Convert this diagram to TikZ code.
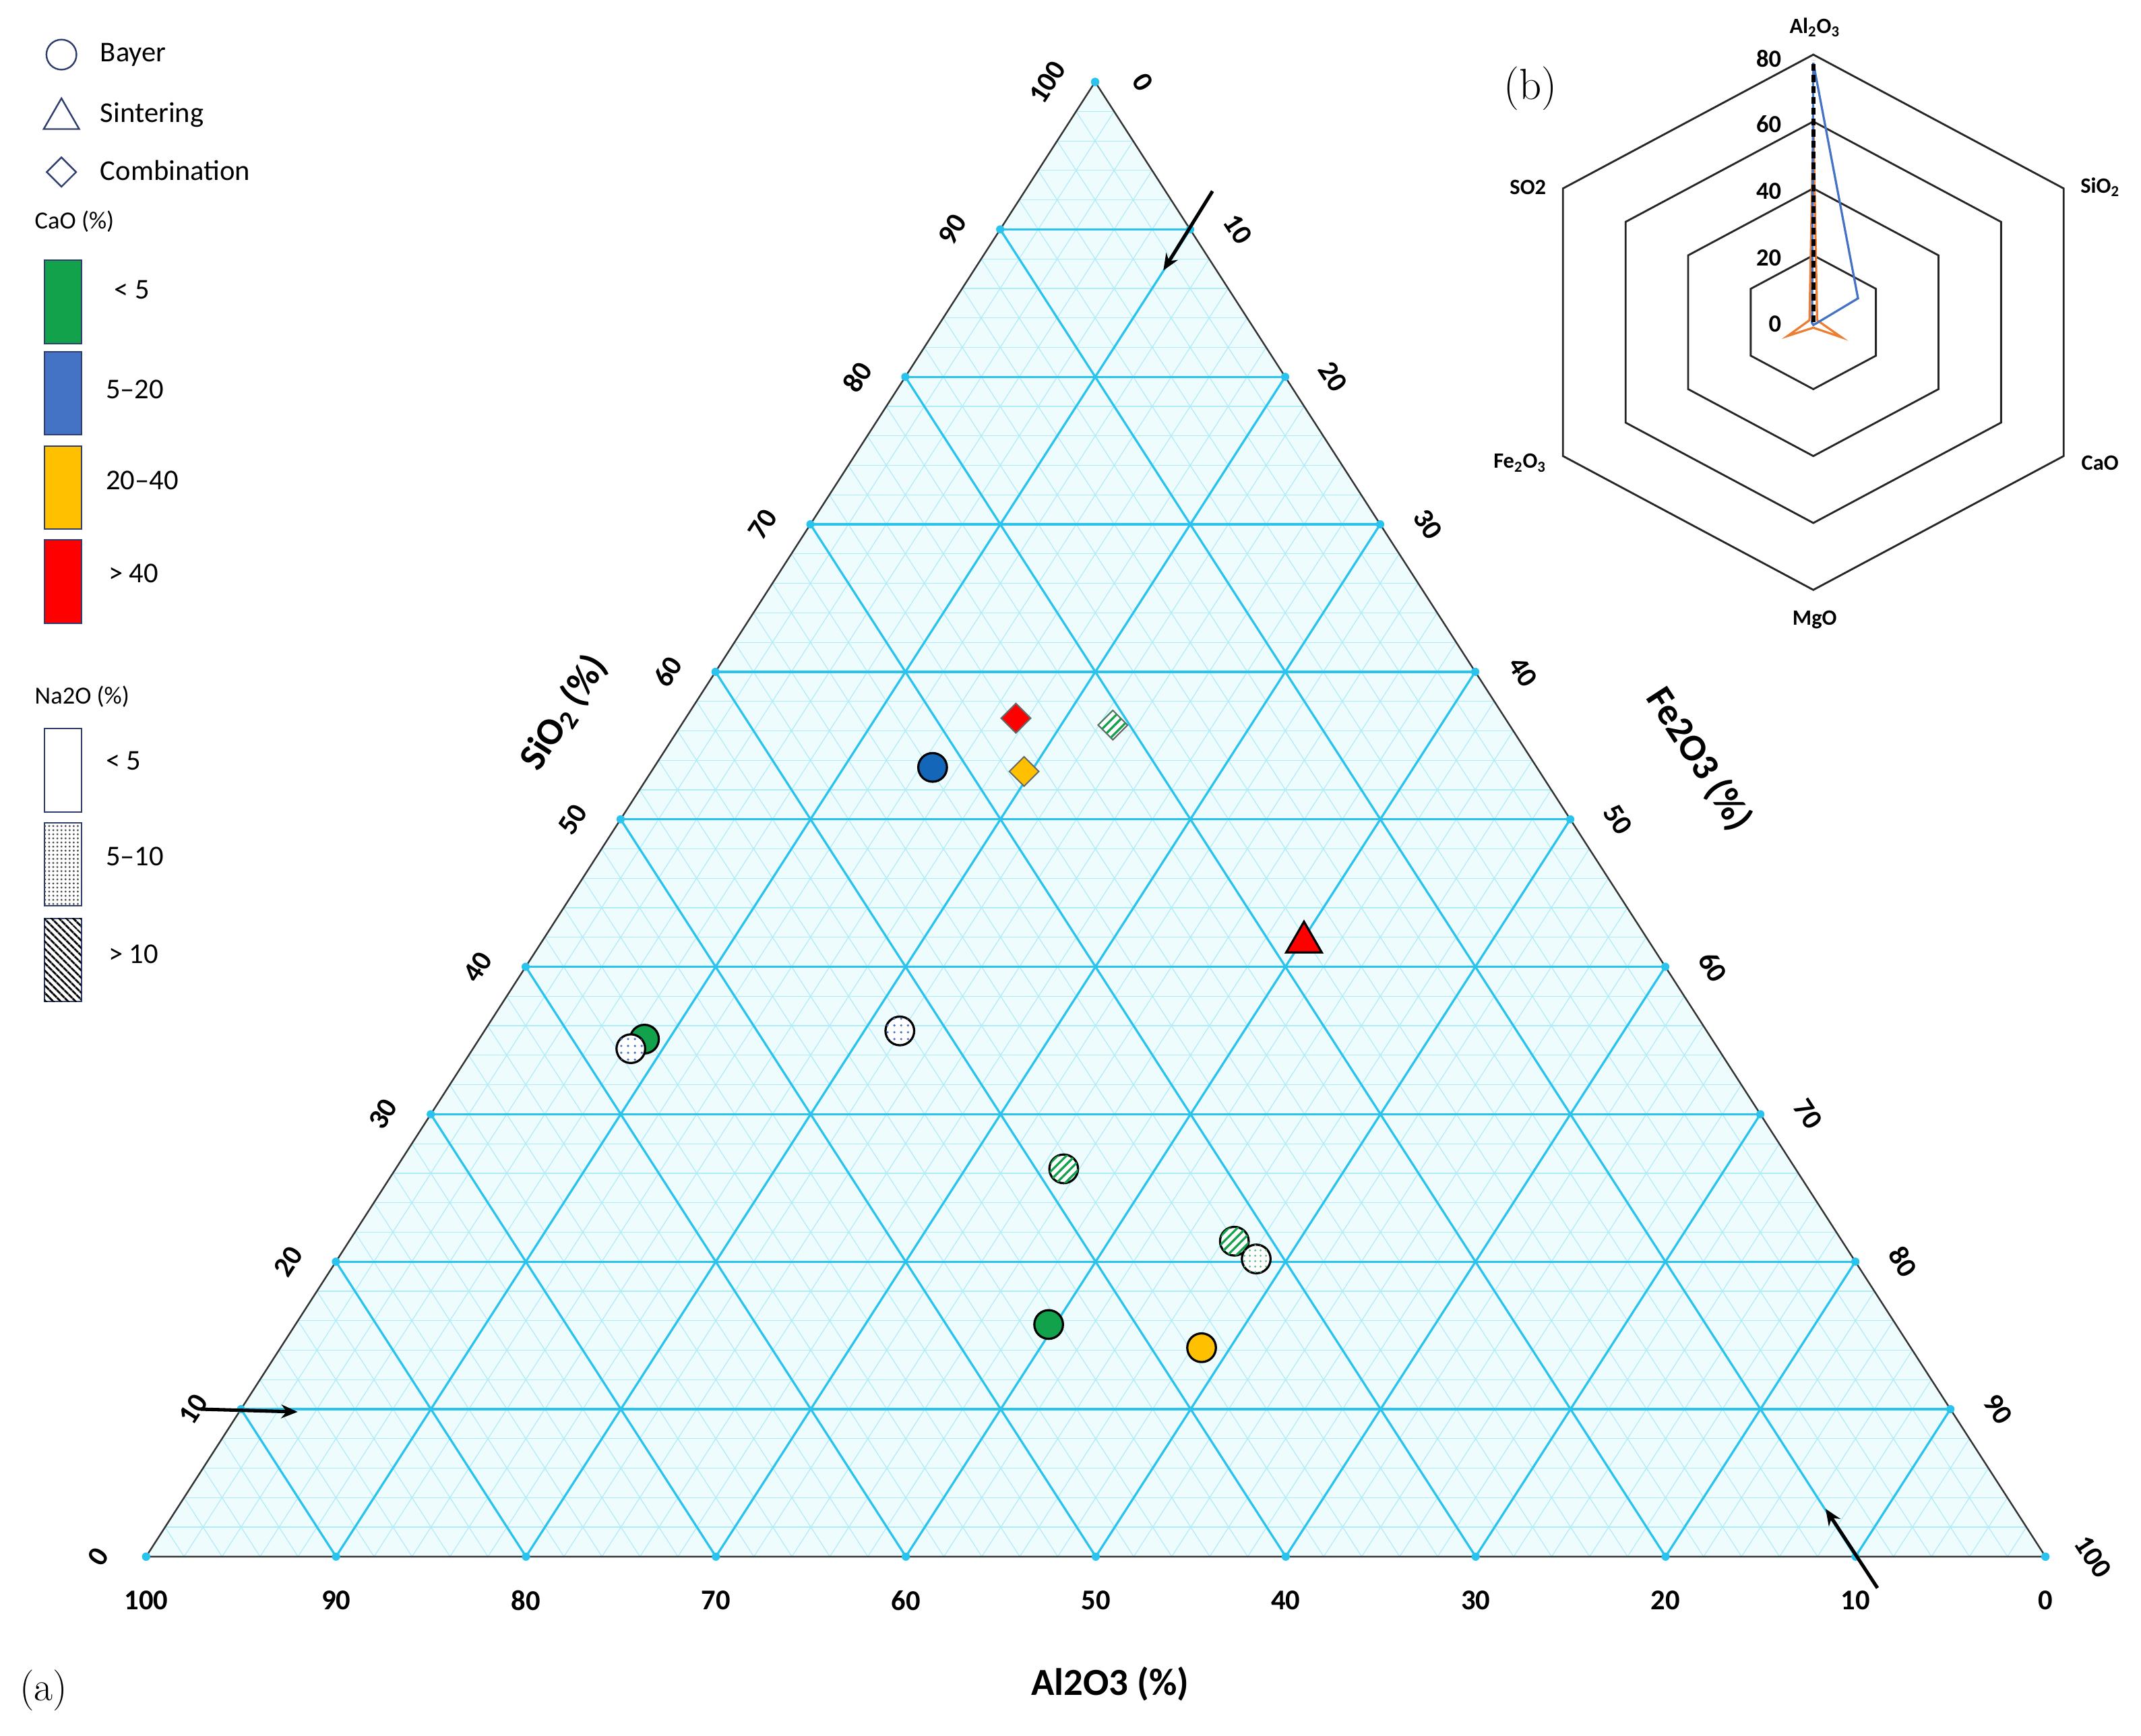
\documentclass[tikz,border=0pt]{standalone}
\usepackage{fontspec}
\newfontfamily\carl{Carlito}
\usetikzlibrary{patterns,patterns.meta,shapes.geometric,arrows.meta}
\definecolor{major}{HTML}{29C3EE}
\definecolor{minor}{HTML}{B0ECF7}
\definecolor{bgc}{HTML}{EEFCFE}
\definecolor{mgreen}{HTML}{12A24C}
\definecolor{mblue}{HTML}{1467B8}
\definecolor{myel}{HTML}{FFC000}
\definecolor{navy}{HTML}{2F3E6E}
\definecolor{rblue}{HTML}{4472C4}
\definecolor{rorange}{HTML}{ED7D31}
\begin{document}
\begin{tikzpicture}[x=1pt,y=-1pt,
 tick/.style={font=\carl\bfseries\fontsize{21}{21}\selectfont},
 axl/.style={font=\carl\bfseries\fontsize{28}{28}\selectfont},
 leg/.style={font=\carl\fontsize{21}{21}\selectfont,anchor=west},
 rad/.style={font=\carl\bfseries\fontsize{16}{16}\selectfont},
 mk/.style={circle,draw=black,line width=1.6pt,minimum size=21pt,inner sep=0pt},
 dm/.style={diamond,draw=black!60,line width=1pt,minimum size=22pt,inner sep=0pt},
 stripes/.style={fill=white,postaction={pattern={Lines[angle=45,distance=4.5pt,line width=1.6pt]},pattern color=mgreen}},
 dots/.style={fill=white,postaction={pattern={Dots[distance=5pt,radius=0.9pt]},pattern color=rblue}},
 lbox/.style={draw=navy,line width=1pt,minimum width=27pt,minimum height=61pt,inner sep=0pt},
 arr/.style={-{Stealth[length=12pt,width=10pt]},line width=2.5pt}]
\useasboundingbox (0,0) rectangle (1568,1271);
\coordinate (L) at (107,1140);
\coordinate (T) at (802,60);
\coordinate (R) at (1498,1140);
\fill[bgc] (L)--(T)--(R)--cycle;
% minor grid
\foreach \k in {2,4,...,98}{
 \pgfmathsetmacro\a{\k/100}
 \pgfmathsetmacro\b{1-\k/100}
 \draw[minor,line width=0.6pt] (barycentric cs:L=\b,T=\a,R=0) -- (barycentric cs:L=0,T=\a,R=\b);
 \draw[minor,line width=0.6pt] (barycentric cs:L=\a,T=\b,R=0) -- (barycentric cs:L=\a,T=0,R=\b);
 \draw[minor,line width=0.6pt] (barycentric cs:L=\b,T=0,R=\a) -- (barycentric cs:L=0,T=\b,R=\a);
}
% major grid
\foreach \k in {10,20,...,90}{
 \pgfmathsetmacro\a{\k/100}
 \pgfmathsetmacro\b{1-\k/100}
 \draw[major,line width=1.6pt] (barycentric cs:L=\b,T=\a,R=0) -- (barycentric cs:L=0,T=\a,R=\b);
 \draw[major,line width=1.6pt] (barycentric cs:L=\a,T=\b,R=0) -- (barycentric cs:L=\a,T=0,R=\b);
 \draw[major,line width=1.6pt] (barycentric cs:L=\b,T=0,R=\a) -- (barycentric cs:L=0,T=\b,R=\a);
}
\draw[black!80,line width=1.2pt] (L)--(T)--(R)--cycle;
% ticks and labels
\foreach \v in {0,10,...,100}{
 \pgfmathsetmacro\a{\v/100}
 \pgfmathsetmacro\b{1-\v/100}
 \fill[major] (barycentric cs:L=\a,T=0,R=\b) circle (3pt);
 \fill[major] (barycentric cs:L=\b,T=\a,R=0) circle (3pt);
 \fill[major] (barycentric cs:L=0,T=\b,R=\a) circle (3pt);
 \node[tick] at ([yshift=-32pt]barycentric cs:L=\a,T=0,R=\b) {\v};
 \node[tick,rotate=57] at ([xshift=-35pt]barycentric cs:L=\b,T=\a,R=0) {\v};
 \node[tick,rotate=-57] at ([xshift=35pt]barycentric cs:L=0,T=\b,R=\a) {\v};
}
\node[axl] (xa) at (813,1233) {Al2O3 (\%)};
\node[axl,rotate=57] (xs) at (413,522) {SiO\textsubscript{2} (\%)};
\node[axl,rotate=-57] (xf) at (1244,556) {Fe2O3 (\%)};
\node[font=\fontsize{30}{30}\selectfont] (pa) at (32,1238) {(a)};
% arrows
\coordinate (a1s) at (888,140); \coordinate (a1e) at (852,198);
\coordinate (a2s) at (147,1032); \coordinate (a2e) at (218,1034);
\coordinate (a3s) at (1375,1163); \coordinate (a3e) at (1337,1105);
\draw[arr] (a1s)--(a1e); \draw[arr] (a2s)--(a2e); \draw[arr] (a3s)--(a3e);
% data
\node[mk,fill=mblue] (p1) at (683,562) {};
\node[mk,dots] (p2) at (659,755) {};
\node[mk,fill=mgreen] (p3) at (472,761) {};
\node[mk,dots] (p4) at (462,768) {};
\node[mk,stripes] (p5) at (779,856) {};
\node[mk,stripes] (p6) at (904,909) {};
\node[mk,fill=white,postaction={pattern={Dots[distance=4pt,radius=0.9pt]},pattern color=mgreen!70}] (p7) at (920,922) {};
\node[mk,fill=mgreen] (p8) at (768,970) {};
\node[mk,fill=myel] (p9) at (880,987) {};
\node[dm,fill=red] (d1) at (744,526) {};
\node[dm,stripes] (d2) at (815,531) {};
\node[dm,fill=myel] (d3) at (750,565) {};
\node[regular polygon,regular polygon sides=3,draw=black,line width=1.6pt,fill=red,minimum size=30pt,inner sep=0pt] (t1) at (955,690) {};
% legend
\node[circle,draw=navy,line width=1.2pt,minimum size=22pt,inner sep=0pt] (lc) at (45,40) {};
\node[leg] (lct) at (70,40) {Bayer};
\node[regular polygon,regular polygon sides=3,draw=navy,line width=1.2pt,minimum size=30pt,inner sep=0pt] (lt) at (45,87) {};
\node[leg] (ltt) at (70,84) {Sintering};
\node[diamond,draw=navy,line width=1.2pt,minimum size=22pt,inner sep=0pt] (ld) at (45,126) {};
\node[leg] (ldt) at (70,125) {Combination};
\node[leg,font=\carl\fontsize{18}{18}\selectfont] (lcao) at (22,162) {CaO (\%)};
\node[lbox,fill=mgreen] (b1) at (46,221) {};
\node[lbox,fill=rblue] (b2) at (46,288) {};
\node[lbox,fill=myel] (b3) at (46,357) {};
\node[lbox,fill=red] (b4) at (46,426) {};
\node[leg] at (80,212) {< 5};
\node[leg] at (74,285) {5–20};
\node[leg] at (74,352) {20–40};
\node[leg] at (76,420) {> 40};
\node[leg,font=\carl\fontsize{18}{18}\selectfont] (lna) at (22,510) {Na2O (\%)};
\node[lbox,fill=white] (n1) at (46,564) {};
\node[lbox,fill=white,postaction={pattern={Dots[distance=3pt,radius=0.8pt]},pattern color=black!70}] (n2) at (46,633) {};
\node[lbox,fill=white,postaction={pattern={Lines[angle=-45,distance=4pt,line width=1.5pt]},pattern color=black}] (n3) at (46,703) {};
\node[leg] at (74,557) {< 5};
\node[leg] at (74,627) {5–10};
\node[leg] at (76,699) {> 10};
% radar (b)
\begin{scope}[shift={(1328,236)},x=1.08pt,yscale=-1]
 \foreach \r in {49,98,147,196}{
  \draw[black!85,line width=1.4pt] (90:\r)--(30:\r)--(-30:\r)--(-90:\r)--(-150:\r)--(150:\r)--cycle;
 }
 \draw[rorange,line width=1.6pt] (90:147)--(30:3)--(-30:22)--(-90:4)--(-150:20)--(150:3)--cycle;
 \draw[rblue,line width=1.6pt] (90:190)--(30:35)--(-30:2)--(-90:2)--(-150:1)--(150:1)--cycle;
 \draw[black,line width=3pt,dash pattern=on 5pt off 3pt] (0,0)--(90:192);
\end{scope}
\node[rad] (r1) at (1329,20) {Al\textsubscript{2}O\textsubscript{3}};
\node[rad] (r2) at (1538,137) {SiO\textsubscript{2}};
\node[rad] (r3) at (1119,137) {SO2};
\node[rad] (r4) at (1113,339) {Fe\textsubscript{2}O\textsubscript{3}};
\node[rad] (r5) at (1538,339) {CaO};
\node[rad] (r6) at (1329,454) {MgO};
\foreach \v/\y in {0/237,20/189,40/140,60/91,80/43}{
 \node[font=\carl\bfseries\fontsize{18}{18}\selectfont,anchor=east] at (1308,\y) {\v};
}
\node[font=\fontsize{32}{32}\selectfont] (pb) at (1121,65) {(b)};
\end{tikzpicture}
\end{document}
